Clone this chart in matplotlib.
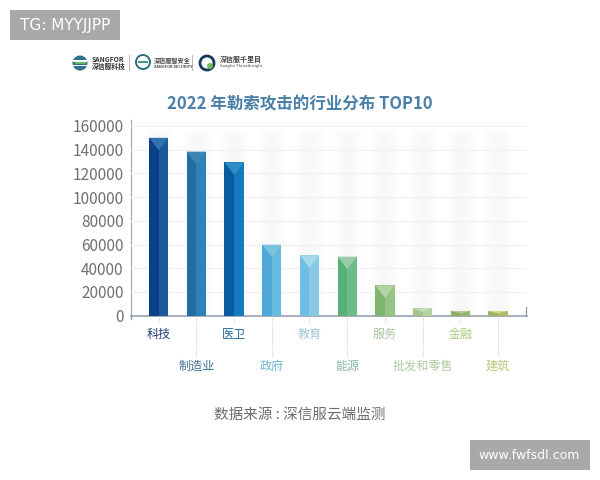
import numpy as np
import matplotlib
matplotlib.use("Agg")
import matplotlib.pyplot as plt
from matplotlib.patches import Rectangle, Ellipse
from matplotlib.lines import Line2D
from matplotlib.transforms import blended_transform_factory

plt.rcParams['font.family'] = ['Noto Sans CJK SC', 'DejaVu Sans']

categories = ['科技', '制造业', '医卫', '政府', '教育', '能源', '服务', '批发和零售', '金融', '建筑']
values = [150000, 138300, 129300, 59900, 50900, 49800, 25600, 6200, 4000, 4000]
left_colors = ['#0b3f86', '#1f6da3', '#0a5c9e', '#4ea7d8', '#6fbde0', '#5aae78', '#7fb56f', '#a2c48c', '#8aa868', '#a2b45c']
right_colors = ['#1c5a9c', '#2f82b8', '#157ac0', '#66bbe0', '#85c9e6', '#6bbc88', '#94c584', '#b5d2a0', '#96b474', '#acbc66']
top_colors = ['#2f72ad', '#3b86b5', '#2e8fc8', '#7cc4de', '#a5d8ec', '#98cda8', '#b2d3a3', '#c6dcb3', '#b4cc90', '#d3dc8a']
label_colors = ['#1d3f73', '#3b6f8f', '#1f6a9e', '#6fb5d5', '#a0c8d4', '#88b8a5', '#a9c4a0', '#b0c8a0', '#a8cc7e', '#b6cc78']
label_weights = ['medium', 'medium', 'medium', 'normal', 'normal', 'normal', 'normal', 'normal', 'normal', 'normal']
yticks = [0, 20000, 40000, 60000, 80000, 100000, 120000, 140000, 160000]
title = '2022 年勒索攻击的行业分布 TOP10'
source = '数据来源 : 深信服云端监测'

W, H = 600, 480
fig = plt.figure(figsize=(W / 100, H / 100), dpi=100, facecolor='white')


def px(x, y):
    return x / W, 1 - y / H


ax_l, ax_r, ax_t, ax_b = 130.5, 526.5, 120.0, 315.7
ax = fig.add_axes([ax_l / W, 1 - ax_b / H, (ax_r - ax_l) / W, (ax_b - ax_t) / H])

# soft background columns
xs = np.linspace(-1, 1, 41)
ys = np.linspace(0, 1, 60)
alpha = (1 - np.abs(xs)) ** 0.5 * np.ones((60, 41))
alpha = alpha * np.clip(ys[:, None] / 0.04, 0, 1)
rgba = np.zeros((60, 41, 4))
rgba[..., :3] = np.array([0.94, 0.945, 0.95])
rgba[..., 3] = alpha * 0.5
for i in range(len(categories)):
    ax.imshow(rgba, extent=(i - 0.36, i + 0.36, 0, yticks[-1]), aspect='auto', zorder=1, interpolation='bilinear')
ax.set_xlim(-0.748, 9.756)
ax.set_ylim(0, 165000)

ax.set_yticks(yticks)
ax.yaxis.grid(True, color='#eff1f3', lw=0.9, zorder=2)
ax.set_axisbelow(False)
ax.tick_params(axis='y', length=0, pad=5, labelsize=11.1, labelcolor='#707070')
ax.set_xticks([])
for s in ('top', 'right'):
    ax.spines[s].set_visible(False)
ax.spines['left'].set_color('#a4abb5')
ax.spines['bottom'].set_color('#8a94a6')
ax.spines['left'].set_linewidth(0.9)
ax.spines['bottom'].set_linewidth(1.1)

bw = 0.512
x = np.arange(len(categories))
ax.bar(x - bw / 4, values, bw / 2, color=left_colors, zorder=3)
ax.bar(x + bw / 4, values, bw / 2, color=right_colors, zorder=3)
for i, v in enumerate(values):
    h = min(10500, v * 0.5)
    ax.fill([i - bw / 2, i + bw / 2, i], [v, v, v - h], color=top_colors[i], zorder=4, lw=0)

# staggered labels and dotted leaders
trans = blended_transform_factory(ax.transData, ax.transAxes)
to_ax = lambda p: (ax_b - p) / (ax_b - ax_t)
for i, name in enumerate(categories):
    row2 = i % 2 == 1
    ly = 366.5 if row2 else 334
    end = 357 if row2 else 323
    ax.plot([i, i], [to_ax(318), to_ax(end)], transform=trans, clip_on=False, color='#bcc0c6',
            lw=0.7, ls=(0, (1, 1.5)), zorder=2)
    ax.text(i, to_ax(ly), name, transform=trans, ha='center', va='center', fontsize=8.7,
            color=label_colors[i], fontweight=label_weights[i], clip_on=False)

# small end marks
fig.add_artist(Line2D([px(526.3, 0)[0]] * 2, [px(0, 307)[1], px(0, 316)[1]], color='#8a94a6', lw=0.9))
fig.add_artist(Line2D([px(130.5, 0)[0]] * 2, [px(0, 315)[1], px(0, 319)[1]], color='#8a94a6', lw=0.9))

fig.text(*px(300, 104), title, ha='center', va='center', fontsize=11.9, fontweight='bold', color='#4a80a8')
fig.text(*px(300, 415), source, ha='center', va='center', fontsize=10.5, color='#6c6c6c')


def box(x0, y0, x1, y1, color):
    fig.add_artist(Rectangle(px(x0, y1), (x1 - x0) / W, (y1 - y0) / H, transform=fig.transFigure,
                             facecolor=color, edgecolor='none'))


def circ(cx, cy, r, **kw):
    fx, fy = px(cx, cy)
    fig.add_artist(Ellipse((fx, fy), 2 * r / W, 2 * r / H, transform=fig.transFigure, **kw))


# watermarks
box(10, 10, 120, 40, '#a9a9a9')
fig.text(*px(65, 25.5), 'TG: MYYJJPP', ha='center', va='center', fontsize=11, color='white', family='DejaVu Sans')
box(470, 440, 590, 470, '#a9a9a9')
fig.text(*px(529.5, 455.5), 'www.fwfsdl.com', ha='center', va='center', fontsize=9, color='white', family='DejaVu Sans')

# logo strip
circ(80, 63, 7.5, facecolor='#2f6f8f', edgecolor='none')
box(73, 60, 87, 61.5, 'white')
box(73, 65, 87, 66.2, 'white')
box(75, 61.5, 86, 63.5, '#6fb36a')
for sx in (128.5, 191.5):
    fig.add_artist(Line2D([px(sx, 0)[0]] * 2, [px(0, 55)[1], px(0, 70)[1]], color='#b8b8b8', lw=0.7))
circ(143, 62, 7, facecolor='white', edgecolor='#2d6f80', lw=1.4)
box(138, 61, 148, 63, '#3f9a76')
circ(207, 63, 7, facecolor='white', edgecolor='#16385a', lw=2)
circ(210, 66, 3, facecolor='#79b956', edgecolor='none')
fig.text(*px(92, 59), 'SANGFOR', fontsize=4.9, fontweight='bold', color='#333333', va='center', ha='left')
fig.text(*px(92, 66), '深信服科技', fontsize=4.9, fontweight='bold', color='#333333', va='center', ha='left')
fig.text(*px(154, 60), '深信服智安全', fontsize=4.4, fontweight='bold', color='#444444', va='center', ha='left')
fig.text(*px(154, 66.5), 'SANGFOR SECURITY', fontsize=2.8, fontweight='bold', color='#444444', va='center', ha='left')
fig.text(*px(220, 59.5), '深信服千里目', fontsize=5, fontweight='bold', color='#444444', va='center', ha='left')
fig.text(*px(220, 66), 'Sangfor ThreatInsight', fontsize=3, color='#444444', va='center', ha='left')

fig.savefig('out.png', dpi=100)
